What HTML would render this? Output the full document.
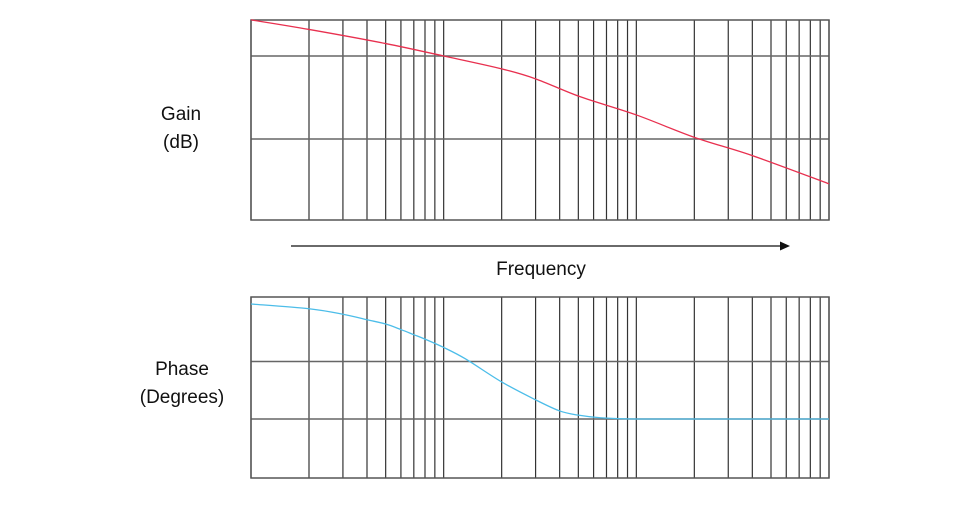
<!DOCTYPE html>
<html><head><meta charset="utf-8"><style>
body{margin:0;background:#fff}
svg text{font-family:"Liberation Sans",sans-serif;font-size:19px;fill:#111}
</style></head><body>
<svg id="c" width="960" height="500"></svg>
<script>
const gainFreq=[1,2,5,10,20,30,51,100,200,400,1000];
const gainDb=[8.7,6.4,3.0,0,-3.1,-5.5,-9.8,-14.2,-19.6,-24,-30.8];
const phaseFreq=[1,2,3,4,5,6,7,8,10,13,20,30,40,50,65,100,300,1000];
const phaseDeg=[0,-3.7,-8,-12.3,-15.7,-20,-24,-27.5,-34,-43,-61,-75,-83.7,-87,-89,-90,-90,-90];
const gainGrid=[0,-20];
const phaseGrid=[-45,-90];
const NS='http://www.w3.org/2000/svg';
const svg=document.getElementById('c');
function el(t,a,p){const e=document.createElementNS(NS,t);for(const k in a)e.setAttribute(k,a[k]);(p||svg).appendChild(e);return e;}
const X0=251,X1=829;
const xs=f=>X0+Math.log10(f)/3*(X1-X0);
const yG=v=>56-v*83/20;
const yP=v=>304-v*(115/90);
function panel(top,bot,name,grid,ys){
  const g=el('g',{});
  
  
  for(let d=0;d<3;d++)for(let m=1;m<=10;m++){
    if(m===10&&d<2)continue;
    const x=xs(Math.pow(10,d)*m);
    const l=el('line',{x1:x,x2:x,y1:top,y2:bot,stroke:'#333','stroke-width':1.2},g);
    
    
  }
  grid.forEach(v=>{const y=ys(v);
    const l=el('line',{x1:X0,x2:X1,y1:y,y2:y,stroke:'#666','stroke-width':1.6},g);
    
    });
  const r=el('rect',{x:X0,y:top,width:X1-X0,height:bot-top,fill:'none',stroke:'#555','stroke-width':1.5},g);
  
  
}
panel(20,220,'gain-panel',gainGrid,yG);
panel(297,478,'phase-panel',phaseGrid,yP);
function curve(fs,vs,ys,col,name){
  const pts=fs.map((f,i)=>[xs(f),ys(vs[i])]);
  let d='M'+pts[0][0]+','+pts[0][1];
  for(let i=0;i<pts.length-1;i++){
    const p0=pts[Math.max(0,i-1)],p1=pts[i],p2=pts[i+1],p3=pts[Math.min(pts.length-1,i+2)];
    const c1=[p1[0]+(p2[0]-p0[0])/6,p1[1]+(p2[1]-p0[1])/6];
    const c2=[p2[0]-(p3[0]-p1[0])/6,p2[1]-(p3[1]-p1[1])/6];
    d+=' C'+c1+' '+c2+' '+p2;
  }
  const p=el('path',{d:d,fill:'none',stroke:col,'stroke-width':1.3});
  
  
}
curve(gainFreq,gainDb,yG,'#e8304f','gain-curve');
curve(phaseFreq,phaseDeg,yP,'#4cbde9','phase-curve');
</script>
<svg width="960" height="500" style="position:absolute;left:0;top:0">
<text x="181" y="120" text-anchor="middle">Gain</text>
<text x="181" y="148" text-anchor="middle">(dB)</text>
<line x1="291" y1="246" x2="782" y2="246" stroke="#111" stroke-width="1.2"/>
<polygon points="790,246 780,241.5 780,250.5" fill="#111"/>
<text x="541" y="275" text-anchor="middle">Frequency</text>
<text x="182" y="375" text-anchor="middle">Phase</text>
<text x="182" y="403" text-anchor="middle">(Degrees)</text>
</svg>
</body></html>
